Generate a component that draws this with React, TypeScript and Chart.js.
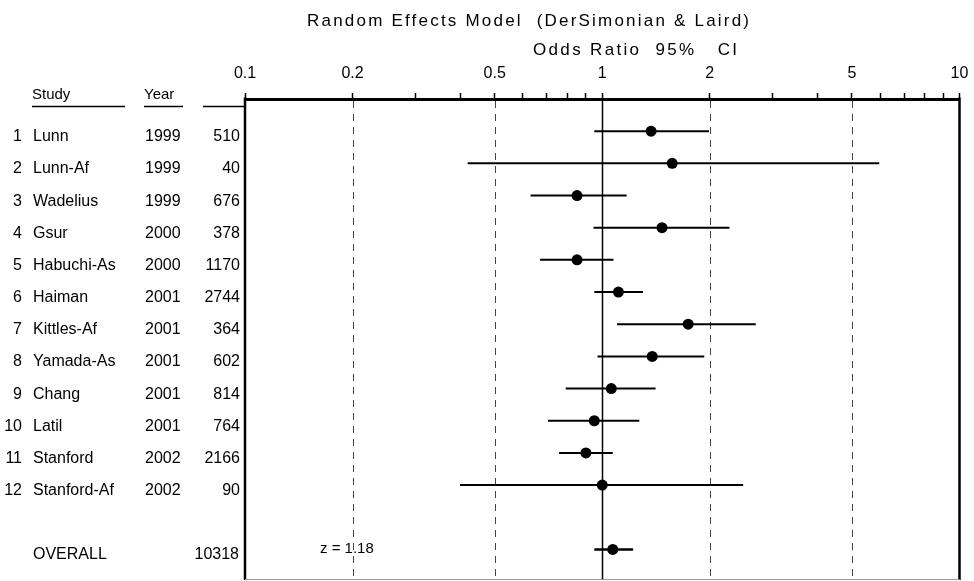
import React, { useEffect, useRef } from "react";
import { Chart, registerables } from "chart.js";

Chart.register(...registerables);

// ---------- data ----------
const studies = [
  "Lunn", "Lunn-Af", "Wadelius", "Gsur", "Habuchi-As", "Haiman",
  "Kittles-Af", "Yamada-As", "Chang", "Latil", "Stanford", "Stanford-Af",
];
const years = [1999, 1999, 1999, 2000, 2000, 2001, 2001, 2001, 2001, 2001, 2002, 2002];
const sampleSizes = [510, 40, 676, 378, 1170, 2744, 364, 602, 814, 764, 2166, 90];
const oddsRatios = [1.37, 1.57, 0.85, 1.47, 0.85, 1.11, 1.74, 1.38, 1.06, 0.95, 0.9, 1.0];
const ciLower = [0.95, 0.42, 0.63, 0.945, 0.67, 0.95, 1.1, 0.97, 0.79, 0.705, 0.757, 0.4];
const ciUpper = [1.99, 5.96, 1.17, 2.27, 1.075, 1.3, 2.69, 1.93, 1.41, 1.27, 1.07, 2.48];
const studyRows = [1, 2, 3, 4, 5, 6, 7, 8, 9, 10, 11, 12];

const overallLabel = "OVERALL";
const overallRow = 14;
const overallN = 10318;
const overallOR = 1.07;
const overallLower = 0.95;
const overallUpper = 1.22;
const zLabel = "z = 1.18";

const tickValues = [0.1, 0.2, 0.3, 0.4, 0.5, 0.6, 0.7, 0.8, 0.9, 1, 2, 3, 4, 5, 6, 7, 8, 9, 10];
const labelledTicks = [0.1, 0.2, 0.5, 1, 2, 5, 10];
const dashedRefs = [0.2, 0.5, 2, 5];
const solidRef = 1;

const titleText = "Random Effects Model  (DerSimonian & Laird)";
const subtitleText = "Odds Ratio  95%   CI";
const headerStudy = "Study";
const headerYear = "Year";

const FONT = "'Liberation Sans', Arial, Helvetica, sans-serif";

function drawSpaced(ctx: any, text: string, x: number, y: number, size: number, targetWidth: number) {
  ctx.font = `${size}px ${FONT}`;
  const natural = ctx.measureText(text).width;
  const spacing = Math.max(0, (targetWidth - natural) / Math.max(1, text.length - 1));
  if ("letterSpacing" in ctx) {
    ctx.letterSpacing = `${spacing}px`;
    ctx.fillText(text, x, y);
    ctx.letterSpacing = "0px";
  } else {
    let cx = x;
    for (const ch of text) {
      ctx.fillText(ch, cx, y);
      cx += ctx.measureText(ch).width + spacing;
    }
  }
}

const decorPlugin = {
  id: "forestDecor",
  beforeDatasetsDraw(chart: any) {
    const { ctx, chartArea: a, scales } = chart;
    const x = scales.x;
    ctx.save();
    // dashed reference lines
    ctx.strokeStyle = "#444";
    ctx.lineWidth = 1;
    ctx.setLineDash([7, 6]);
    dashedRefs.forEach((v) => {
      const px = Math.round(x.getPixelForValue(v)) + 0.5;
      ctx.beginPath();
      ctx.moveTo(px, a.top + 2);
      ctx.lineTo(px, a.bottom);
      ctx.stroke();
    });
    ctx.setLineDash([]);
    // solid line at 1
    ctx.strokeStyle = "#000";
    ctx.lineWidth = 1.5;
    const p1 = Math.round(x.getPixelForValue(solidRef)) + 0.5;
    ctx.beginPath();
    ctx.moveTo(p1, a.top);
    ctx.lineTo(p1, a.bottom);
    ctx.stroke();
    // frame
    ctx.lineWidth = 2.5;
    ctx.beginPath();
    ctx.moveTo(a.left, a.top - 1.5);
    ctx.lineTo(a.left, a.bottom);
    ctx.moveTo(a.right, a.top - 1.5);
    ctx.lineTo(a.right, a.bottom);
    ctx.stroke();
    ctx.strokeStyle = "#999";
    ctx.lineWidth = 1;
    ctx.beginPath();
    ctx.moveTo(a.left, a.bottom - 0.5);
    ctx.lineTo(a.right, a.bottom - 0.5);
    ctx.stroke();
    ctx.restore();
  },
  afterDraw(chart: any) {
    const { ctx, scales } = chart;
    const y = scales.y;
    ctx.save();
    ctx.fillStyle = "#000";
    ctx.textBaseline = "alphabetic";
    ctx.textAlign = "left";
    // titles
    drawSpaced(ctx, titleText, 307, 26, 17, 442);
    drawSpaced(ctx, subtitleText, 533, 55, 17, 204);
    // headers
    ctx.font = `15px ${FONT}`;
    ctx.fillText(headerStudy, 32, 99);
    ctx.fillText(headerYear, 144, 99);
    ctx.strokeStyle = "#000";
    ctx.lineWidth = 1.5;
    ctx.beginPath();
    ctx.moveTo(32, 106.5); ctx.lineTo(125, 106.5);
    ctx.moveTo(144, 106.5); ctx.lineTo(183, 106.5);
    ctx.moveTo(203, 106.5); ctx.lineTo(245, 106.5);
    ctx.stroke();
    // table rows
    ctx.font = `16px ${FONT}`;
    studies.forEach((name, i) => {
      const by = y.getPixelForValue(studyRows[i]) + 10;
      ctx.textAlign = "right";
      ctx.fillText(String(i + 1), 22, by);
      ctx.textAlign = "left";
      ctx.fillText(name, 33, by);
      ctx.fillText(String(years[i]), 145, by);
      ctx.textAlign = "right";
      ctx.fillText(String(sampleSizes[i]), 240, by);
    });
    const oy = y.getPixelForValue(overallRow) + 10;
    ctx.textAlign = "left";
    ctx.fillText(overallLabel, 33, oy);
    ctx.textAlign = "right";
    ctx.fillText(String(overallN), 239, oy);
    ctx.textAlign = "left";
    ctx.font = `15px ${FONT}`;
    ctx.fillText(zLabel, 320, oy - 6);
    ctx.restore();
  },
};

export default function App() {
  const canvasRef = useRef<HTMLCanvasElement | null>(null);

  useEffect(() => {
    if (!canvasRef.current) return;
    const ciDatasets = studies.map((_, i) => ({
      type: "scatter" as const,
      data: [
        { x: ciLower[i], y: studyRows[i] },
        { x: ciUpper[i], y: studyRows[i] },
      ],
      showLine: true,
      borderColor: "#000",
      borderWidth: 2,
      pointRadius: 0,
    }));
    const overallCI = {
      type: "scatter" as const,
      data: [
        { x: overallLower, y: overallRow },
        { x: overallUpper, y: overallRow },
      ],
      showLine: true,
      borderColor: "#000",
      borderWidth: 2.5,
      pointRadius: 0,
    };
    const points = {
      type: "scatter" as const,
      data: [
        ...studies.map((_, i) => ({ x: oddsRatios[i], y: studyRows[i] })),
        { x: overallOR, y: overallRow },
      ],
      showLine: false,
      backgroundColor: "#000",
      borderWidth: 0,
      pointRadius: 5.5,
      pointStyle: "circle",
    };

    const chart = new Chart(canvasRef.current, {
      type: "scatter",
      data: { datasets: [...ciDatasets, overallCI, points] as any },
      options: {
        animation: false,
        responsive: false,
        devicePixelRatio: 1,
        layout: { autoPadding: false, padding: { left: 245, right: 14.5, top: 59, bottom: 1 } },
        plugins: { legend: { display: false }, tooltip: { enabled: false }, title: { display: false } },
        scales: {
          x: {
            type: "logarithmic",
            position: "top",
            min: 0.1,
            max: 10,
            afterBuildTicks: (scale: any) => {
              scale.ticks = tickValues.map((v) => ({ value: v }));
            },
            afterFit: (scale: any) => {
              scale.height = 40;
              scale.paddingLeft = 0;
              scale.paddingRight = 0;
            },
            ticks: {
              autoSkip: false,
              maxRotation: 0,
              padding: 10,
              color: "#000",
              font: { family: FONT, size: 16 },
              callback: (value: any) => (labelledTicks.includes(Number(value)) ? String(Number(value)) : ""),
            },
            grid: {
              drawOnChartArea: false,
              drawTicks: true,
              tickLength: 6,
              tickColor: "#000",
              tickWidth: 1.5,
            },
            border: { display: true, color: "#000", width: 3 },
          },
          y: {
            type: "linear",
            min: 0,
            max: 14.95,
            reverse: true,
            display: false,
          },
        },
      },
      plugins: [decorPlugin],
    } as any);
    return () => chart.destroy();
  }, []);

  return (
    <div style={{ position: "absolute", left: 0, top: 0, width: 974, height: 581, background: "#fff" }}>
      <canvas ref={canvasRef} width={974} height={581} style={{ display: "block", width: 974, height: 581 }} />
    </div>
  );
}
